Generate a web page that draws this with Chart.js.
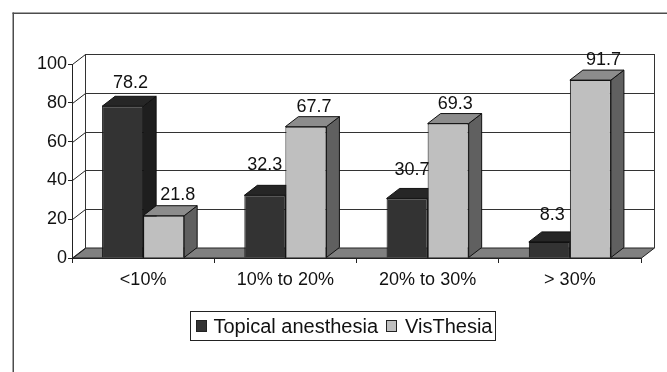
<!DOCTYPE html>
<html>
<head>
<meta charset="utf-8">
<script src="https://cdn.jsdelivr.net/npm/chart.js@4"></script>
<style>
    body { margin: 0; background: #fff; }
    canvas { display: block; }
</style>
</head>
<body>
<canvas id="chart" width="667" height="372"></canvas>
<script>
const categories = ['<10%', '10% to 20%', '20% to 30%', '> 30%'];
const seriesNames = ['Topical anesthesia', 'VisThesia'];
const topicalValues = [78.2, 32.3, 30.7, 8.3];
const visthesiaValues = [21.8, 67.7, 69.3, 91.7];

const fontFamily = '"Liberation Sans", Arial, sans-serif';

// Depth of the fake 3d box
const depthX = 13;
const depthY = 10;

const styles = [
    { front: '#333333', top: '#262626', side: '#1e1e1e' },
    { front: '#bfbfbf', top: '#8c8c8c', side: '#606060' }
];

// Label nudges from the default spot above each bar, [dx, dy]
const labelNudges = [
    [[8, -23], [0, -30], [5, -28], [3, -27]],
    [[14, -21], [8, -20], [7, -20], [13, -20]]
];

function polygon(ctx, points, fill, stroke) {
    ctx.beginPath();
    points.forEach((p, i) => i ? ctx.lineTo(p[0], p[1]) : ctx.moveTo(p[0], p[1]));
    ctx.closePath();
    ctx.fillStyle = fill;
    ctx.fill();
    ctx.strokeStyle = stroke;
    ctx.lineWidth = 1;
    ctx.stroke();
}

function line(ctx, x1, y1, x2, y2, color) {
    ctx.beginPath();
    ctx.moveTo(x1, y1);
    ctx.lineTo(x2, y2);
    ctx.strokeStyle = color;
    ctx.lineWidth = 1;
    ctx.stroke();
}

const box3d = {
    id: 'box3d',
    // Page frame
    beforeDraw(chart) {
        const ctx = chart.ctx;
        ctx.save();
        ctx.fillStyle = '#fff';
        ctx.fillRect(0, 0, chart.width, chart.height);
        ctx.fillStyle = '#4d4d4d';
        ctx.fillRect(12.5, 12.5, chart.width - 12.5, 1.5);
        ctx.fillRect(12.5, 12.5, 1.5, chart.height - 12.5);
        ctx.restore();
    },
    beforeDatasetsDraw(chart) {
        const ctx = chart.ctx;
        const yScale = chart.scales.y;
        const area = chart.chartArea;
        const left = Math.round(area.left) + 0.5;
        const right = Math.round(area.right) + 0.5;
        ctx.save();

        // Back wall, left wall and floor
        polygon(ctx, [
            [left, area.bottom], [right, area.bottom],
            [right + depthX, area.bottom - depthY], [left + depthX, area.bottom - depthY]
        ], '#808080', '#222');
        yScale.ticks.forEach(tick => {
            const y = Math.round(yScale.getPixelForValue(tick.value)) + 0.5;
            line(ctx, left, y, left + depthX, y - depthY, '#222');
            if (tick.value > 0) line(ctx, left + depthX, y - depthY, right + depthX, y - depthY, '#333');
        });
        line(ctx, left + depthX, area.top - depthY, left + depthX, area.bottom - depthY, '#333');
        line(ctx, right + depthX, area.top - depthY, right + depthX, area.bottom - depthY, '#333');

        // Top and side of the bars, the library draws the front faces after this
        chart.data.datasets.forEach((dataset, i) => {
            const style = styles[i];
            chart.getDatasetMeta(i).data.forEach(bar => {
                const l = bar.x - bar.width / 2;
                const r = bar.x + bar.width / 2;
                polygon(ctx, [
                    [r, bar.y], [r + depthX, bar.y - depthY],
                    [r + depthX, bar.base - depthY], [r, bar.base]
                ], style.side, '#111');
                polygon(ctx, [
                    [l, bar.y], [l + depthX, bar.y - depthY],
                    [r + depthX, bar.y - depthY], [r, bar.y]
                ], style.top, '#111');
            });
        });
        ctx.restore();
    },
    afterDatasetsDraw(chart) {
        const ctx = chart.ctx;
        ctx.save();
        ctx.font = '18px ' + fontFamily;
        ctx.fillStyle = '#111';
        ctx.textAlign = 'center';
        ctx.textBaseline = 'middle';

        // Value labels
        chart.data.datasets.forEach((dataset, i) => {
            chart.getDatasetMeta(i).data.forEach((bar, j) => {
                const nudge = labelNudges[i][j];
                ctx.fillText(dataset.data[j].toFixed(1), bar.x + nudge[0], bar.y + nudge[1]);
            });
        });

        // Legend
        ctx.fillStyle = '#fff';
        ctx.strokeStyle = '#222';
        ctx.lineWidth = 1;
        ctx.fillRect(190.5, 311.5, 305, 29);
        ctx.strokeRect(190.5, 311.5, 305, 29);
        ctx.textAlign = 'left';
        ctx.font = '20px ' + fontFamily;
        const legendX = [[196.5, 213.5], [386.5, 405]];
        chart.data.datasets.forEach((dataset, i) => {
            ctx.fillStyle = styles[i].front;
            ctx.fillRect(legendX[i][0], 320.5, 10, 11);
            ctx.strokeRect(legendX[i][0], 320.5, 10, 11);
            ctx.fillStyle = '#111';
            ctx.fillText(dataset.label, legendX[i][1], 327);
        });
        ctx.restore();
    }
};

new Chart(document.getElementById('chart'), {
    type: 'bar',
    data: {
        labels: categories,
        datasets: [
            {
                label: seriesNames[0],
                data: topicalValues,
                backgroundColor: styles[0].front,
                borderColor: '#111',
                borderWidth: 1
            },
            {
                label: seriesNames[1],
                data: visthesiaValues,
                backgroundColor: styles[1].front,
                borderColor: '#111',
                borderWidth: 1
            }
        ]
    },
    options: {
        responsive: false,
        animation: false,
        layout: {
            padding: { top: 64, right: 26, left: 0, bottom: 0 }
        },
        datasets: {
            bar: { categoryPercentage: 0.577, barPercentage: 1 }
        },
        scales: {
            x: {
                afterFit: scale => { scale.height = 114; },
                grid: { drawOnChartArea: false, color: '#222', tickLength: 5 },
                border: { color: '#222' },
                ticks: {
                    color: '#111',
                    padding: 6,
                    font: { family: fontFamily, size: 18 },
                    maxRotation: 0
                }
            },
            y: {
                min: 0,
                max: 100,
                afterFit: scale => { scale.width = 72; },
                grid: { drawOnChartArea: false, color: '#222', tickLength: 4 },
                border: { color: '#222' },
                ticks: {
                    stepSize: 20,
                    color: '#111',
                    padding: 1,
                    font: { family: fontFamily, size: 18 }
                }
            }
        },
        plugins: {
            legend: { display: false },
            tooltip: { enabled: false }
        }
    },
    plugins: [box3d]
});
</script>
</body>
</html>
